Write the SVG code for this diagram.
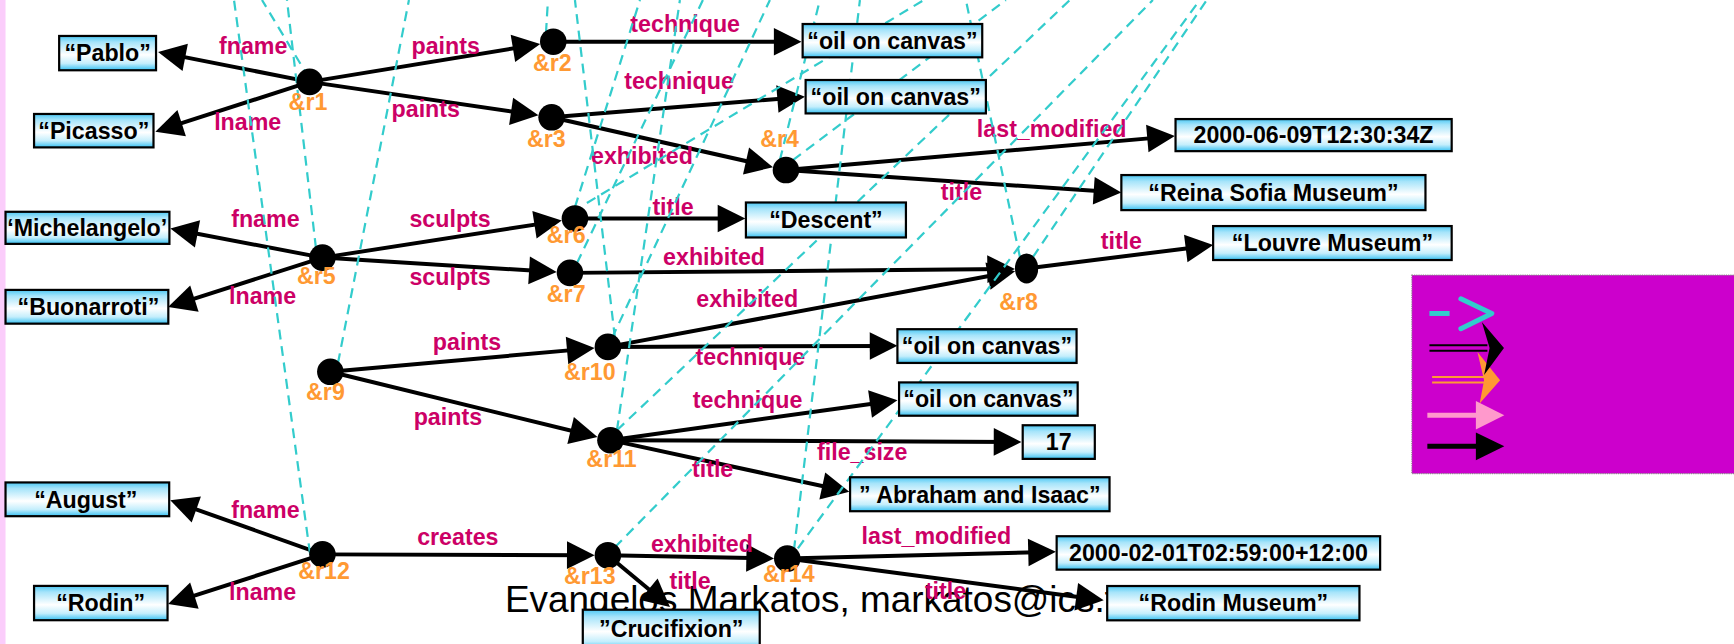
<svg xmlns="http://www.w3.org/2000/svg" width="1734" height="644" viewBox="0 0 1734 644">
<defs>
<linearGradient id="bg" x1="0" y1="0" x2="0" y2="1">
<stop offset="0" stop-color="#4cc8f4"/>
<stop offset="0.18" stop-color="#a6e4fa"/>
<stop offset="0.55" stop-color="#ffffff"/>
<stop offset="0.8" stop-color="#c4eefc"/>
<stop offset="1" stop-color="#36c0f2"/>
</linearGradient>
<marker id="ah" markerWidth="25" markerHeight="25" refX="17" refY="12.5" orient="auto" markerUnits="userSpaceOnUse" overflow="visible">
<path d="M0,0 L25,12.5 L0,25 z" fill="#000"/>
</marker>
<style>
.e{stroke:#000;stroke-width:3.6;fill:none;marker-end:url(#ah)}
.d{stroke:#33cccc;stroke-width:2;stroke-dasharray:9 6;fill:none}
.b{fill:url(#bg);stroke:#000;stroke-width:2}
.bt{font-family:"Liberation Sans",Arial,sans-serif;font-weight:bold;font-size:21px;fill:#000;text-anchor:middle}
.l{font-family:"Liberation Sans",Arial,sans-serif;font-weight:bold;font-size:21px;fill:#cc0066;text-anchor:middle}
.nl{font-family:"Liberation Sans",Arial,sans-serif;font-weight:bold;font-size:21px;fill:#ff9933;text-anchor:middle}
.f{font-family:"Liberation Sans",Arial,sans-serif;font-size:33.4px;fill:#000}
</style>
</defs>
<rect x="0" y="0" width="1734" height="644" fill="#ffffff"/>
<g transform="scale(1.10587,1.10653)">
<rect x="0" y="0" width="5" height="590" fill="#fbcdfb"/>
<text class="f" x="456.6" y="553">Evangelos Markatos, markatos@ics.forth.gr</text>

<g id="connectors">
<g id="edges">
<line class="e" x1="280" y1="74" x2="150.8" y2="48.5"/>
<line class="e" x1="280" y1="74" x2="148.1" y2="116.5"/>
<line class="e" x1="280" y1="74" x2="480.6" y2="41"/>
<line class="e" x1="280" y1="74" x2="479" y2="103.1"/>
<line class="e" x1="500.3" y1="37.7" x2="716.8" y2="37.7"/>
<line class="e" x1="498.8" y1="106" x2="719.9" y2="88.1"/>
<line class="e" x1="498.8" y1="106" x2="691.2" y2="149.3"/>
<line class="e" x1="710.7" y1="153.7" x2="1054.4" y2="123.7"/>
<line class="e" x1="710.7" y1="153.7" x2="1006" y2="173.5"/>
<line class="e" x1="291.6" y1="232.8" x2="161.9" y2="208.1"/>
<line class="e" x1="291.6" y1="232.8" x2="159.6" y2="275"/>
<line class="e" x1="291.6" y1="232.8" x2="500.1" y2="200.5"/>
<line class="e" x1="291.6" y1="232.8" x2="495.4" y2="245.4"/>
<line class="e" x1="519.9" y1="197.5" x2="666" y2="197.5"/>
<line class="e" x1="515.4" y1="246.6" x2="909.8" y2="243.1"/>
<line class="e" x1="928.3" y1="242.6" x2="1089.1" y2="222.5"/>
<line class="e" x1="298.7" y1="336" x2="529.7" y2="315.3"/>
<line class="e" x1="298.7" y1="336" x2="532.5" y2="393.1"/>
<line class="e" x1="549.7" y1="313.5" x2="910.1" y2="246.5"/>
<line class="e" x1="549.7" y1="313.5" x2="803.5" y2="312.6"/>
<line class="e" x1="552" y1="397.8" x2="803.6" y2="362.8"/>
<line class="e" x1="552" y1="397.8" x2="915.6" y2="399.4"/>
<line class="e" x1="552" y1="397.8" x2="760.2" y2="442.8"/>
<line class="e" x1="291.6" y1="501" x2="161.5" y2="454.7"/>
<line class="e" x1="291.6" y1="501" x2="159.6" y2="543.5"/>
<line class="e" x1="291.6" y1="501" x2="529.7" y2="501.8"/>
<line class="e" x1="549.7" y1="501.8" x2="691.9" y2="504.5"/>
<line class="e" x1="549.7" y1="501.8" x2="599.7" y2="543.4"/>
<line class="e" x1="711.9" y1="504.8" x2="946.8" y2="498.9"/>
<line class="e" x1="711.9" y1="504.8" x2="990.1" y2="541.5"/>
</g>
<g id="edge-labels">
<text class="l" x="229" y="48.8">fname</text>
<text class="l" x="224" y="117.5">lname</text>
<text class="l" x="403" y="49">paints</text>
<text class="l" x="385" y="105.5">paints</text>
<text class="l" x="619.6" y="28.6">technique</text>
<text class="l" x="614" y="80.8">technique</text>
<text class="l" x="580.5" y="148.3">exhibited</text>
<text class="l" x="951" y="124.2">last_modified</text>
<text class="l" x="869.4" y="180.8">title</text>
<text class="l" x="240" y="205.5">fname</text>
<text class="l" x="237.5" y="274.3">lname</text>
<text class="l" x="407" y="205">sculpts</text>
<text class="l" x="407" y="257.7">sculpts</text>
<text class="l" x="608.6" y="194.4">title</text>
<text class="l" x="645.7" y="239.6">exhibited</text>
<text class="l" x="1014" y="225.4">title</text>
<text class="l" x="422.3" y="316.4">paints</text>
<text class="l" x="405" y="384.2">paints</text>
<text class="l" x="675.7" y="277.3">exhibited</text>
<text class="l" x="678.6" y="330">technique</text>
<text class="l" x="676" y="368.3">technique</text>
<text class="l" x="779.7" y="415.3">file_size</text>
<text class="l" x="644.4" y="431">title</text>
<text class="l" x="240" y="467.7">fname</text>
<text class="l" x="237.5" y="542.5">lname</text>
<text class="l" x="414" y="492.7">creates</text>
<text class="l" x="634.7" y="498.8">exhibited</text>
<text class="l" x="624" y="532.3">title</text>
<text class="l" x="846.7" y="491.3">last_modified</text>
<text class="l" x="855" y="541">title</text>
</g>
<g id="dashed">
<line class="d" x1="280.3" y1="500" x2="211.6" y2="0"/>
<line class="d" x1="279.4" y1="70.5" x2="236.9" y2="0"/>
<line class="d" x1="285.7" y1="224.2" x2="259.5" y2="0"/>
<line class="d" x1="305.6" y1="328.2" x2="369.8" y2="0"/>
<line class="d" x1="493.7" y1="29.8" x2="495.5" y2="0"/>
<line class="d" x1="556" y1="304.7" x2="519.9" y2="0"/>
<line class="d" x1="557.9" y1="388.8" x2="614.8" y2="0"/>
<line class="d" x1="519.9" y1="187.2" x2="578.7" y2="0"/>
<line class="d" x1="521.7" y1="237.8" x2="635.6" y2="0"/>
<line class="d" x1="553.4" y1="305.6" x2="696.2" y2="0"/>
<line class="d" x1="705.2" y1="144.7" x2="741.4" y2="0"/>
<line class="d" x1="717" y1="144.7" x2="909.6" y2="0"/>
<line class="d" x1="530.7" y1="183.5" x2="835.4" y2="0"/>
<line class="d" x1="717.9" y1="497.3" x2="777.6" y2="0"/>
<line class="d" x1="922.3" y1="232.4" x2="873.4" y2="0"/>
<line class="d" x1="934" y1="232.4" x2="1091.3" y2="0"/>
<line class="d" x1="721.5" y1="495.5" x2="1085" y2="0"/>
<line class="d" x1="556" y1="494.6" x2="1042.5" y2="0"/>
<line class="d" x1="557.9" y1="388.8" x2="967.5" y2="0"/>
</g>
</g>

<g id="v-pablo"><rect class="b" x="53.5" y="32.5" width="87.6" height="31"/><text class="bt" x="97.3" y="55.5">“Pablo”</text></g>
<g id="v-picasso"><rect class="b" x="30.8" y="103" width="108" height="30.2"/><text class="bt" x="84.8" y="125.6">“Picasso”</text></g>
<g id="v-michelangelo"><rect class="b" x="5" y="191.4" width="148.2" height="29"/><text class="bt" x="6.5" y="213.4" style="text-anchor:start">‘Michelangelo’</text></g>
<g id="v-buonarroti"><rect class="b" x="5" y="262" width="147.2" height="30.5"/><text class="bt" x="80" y="284.7">“Buonarroti”</text></g>
<g id="v-august"><rect class="b" x="5" y="436" width="148" height="30.5"/><text class="bt" x="77.6" y="458.8">“August”</text></g>
<g id="v-rodin"><rect class="b" x="30.8" y="529.5" width="120.7" height="31"/><text class="bt" x="91" y="552.5">“Rodin”</text></g>
<g id="v-oil1"><rect class="b" x="725.8" y="21.7" width="162.4" height="30.1"/><text class="bt" x="807" y="44.3">“oil on canvas”</text></g>
<g id="v-oil2"><rect class="b" x="728.5" y="72.3" width="163" height="30.2"/><text class="bt" x="810" y="94.9">“oil on canvas”</text></g>
<g id="v-date1"><rect class="b" x="1063" y="107.6" width="249.7" height="29"/><text class="bt" x="1187.8" y="129.6">2000-06-09T12:30:34Z</text></g>
<g id="v-reina"><rect class="b" x="1014" y="158.2" width="275" height="31.7"/><text class="bt" x="1151.5" y="181.5">“Reina Sofia Museum”</text></g>
<g id="v-descent"><rect class="b" x="674.5" y="183" width="144.7" height="31.6"/><text class="bt" x="746.9" y="206.3">“Descent”</text></g>
<g id="v-louvre"><rect class="b" x="1097" y="204.3" width="215.7" height="30.7"/><text class="bt" x="1204.9" y="227.2">“Louvre Museum”</text></g>
<g id="v-oil3"><rect class="b" x="811.5" y="297.5" width="162" height="30.5"/><text class="bt" x="892.5" y="320.3">“oil on canvas”</text></g>
<g id="v-oil4"><rect class="b" x="813" y="345.6" width="161.5" height="30.1"/><text class="bt" x="893.8" y="368.2">“oil on canvas”</text></g>
<g id="v-17"><rect class="b" x="924.8" y="384.3" width="65.2" height="30.4"/><text class="bt" x="957.4" y="407">17</text></g>
<g id="v-abraham"><rect class="b" x="768.7" y="431.3" width="234.6" height="30.7"/><text class="bt" x="886" y="454.2">” Abraham and Isaac”</text></g>
<g id="v-date2"><rect class="b" x="955.5" y="484.6" width="292.5" height="30.2"/><text class="bt" x="1101.8" y="507.2">2000-02-01T02:59:00+12:00</text></g>
<g id="v-rodinmuseum"><rect class="b" x="1001.2" y="529.6" width="228.1" height="31"/><text class="bt" x="1115.3" y="552.6">“Rodin Museum”</text></g>
<g id="v-crucifixion"><rect class="b" x="527" y="551" width="160" height="36"/><text class="bt" x="607" y="575.6">”Crucifixion”</text></g>

<g id="r1"><circle cx="280" cy="74" r="12"/><text class="nl" x="278.5" y="99.5">&amp;r1</text></g>
<g id="r2"><circle cx="500.3" cy="37.7" r="12"/><text class="nl" x="499.5" y="64.5">&amp;r2</text></g>
<g id="r3"><circle cx="498.8" cy="106" r="12"/><text class="nl" x="494" y="133.2">&amp;r3</text></g>
<g id="r4"><circle cx="710.7" cy="153.7" r="12"/><text class="nl" x="705" y="132.6">&amp;r4</text></g>
<g id="r5"><circle cx="291.6" cy="232.8" r="12"/><text class="nl" x="286" y="256.8">&amp;r5</text></g>
<g id="r6"><circle cx="519.9" cy="197.4" r="12"/><text class="nl" x="512" y="220">&amp;r6</text></g>
<g id="r7"><circle cx="515.4" cy="246.6" r="12"/><text class="nl" x="512" y="272.8">&amp;r7</text></g>
<g id="r8"><ellipse cx="928.3" cy="242.6" rx="10.5" ry="13.6"/><text class="nl" x="921" y="280.3">&amp;r8</text></g>
<g id="r9"><circle cx="298.7" cy="336" r="12"/><text class="nl" x="294.3" y="361.6">&amp;r9</text></g>
<g id="r10"><circle cx="549.7" cy="313.5" r="12"/><text class="nl" x="533.4" y="343">&amp;r10</text></g>
<g id="r11"><circle cx="552" cy="397.8" r="12"/><text class="nl" x="553" y="422.5">&amp;r11</text></g>
<g id="r12"><circle cx="291.6" cy="501" r="12"/><text class="nl" x="293" y="522.9">&amp;r12</text></g>
<g id="r13"><circle cx="549.7" cy="501.8" r="12"/><text class="nl" x="533.4" y="527.4">&amp;r13</text></g>
<g id="r14"><circle cx="711.9" cy="504.8" r="12"/><text class="nl" x="713.3" y="526">&amp;r14</text></g>

<g id="legend">
<rect x="1276.7" y="248.6" width="300" height="179.4" fill="#cc00cc" stroke="#888" stroke-width="1" stroke-dasharray="1 1"/>
<line x1="1292.6" y1="283.3" x2="1310.8" y2="283.3" stroke="#33cccc" stroke-width="4.5"/>
<polyline points="1321,270 1349,283.3 1321,297" fill="none" stroke="#33cccc" stroke-width="4.5" stroke-linecap="round" stroke-linejoin="round"/>
<line x1="1295" y1="340.6" x2="1343.6" y2="340.6" stroke="#ff9933" stroke-width="1.8"/>
<line x1="1295" y1="345.7" x2="1343.6" y2="345.7" stroke="#ff9933" stroke-width="1.8"/>
<polygon points="1336,318 1356.5,343.6 1338,364.7 1342,343.6" fill="#ff9933"/>
<line x1="1292.6" y1="312" x2="1345" y2="312" stroke="#000" stroke-width="1.8"/>
<line x1="1292.6" y1="317" x2="1345" y2="317" stroke="#000" stroke-width="1.8"/>
<polygon points="1340,291 1360,314.5 1342,339 1347,314.5" fill="#000"/>
<line x1="1290.7" y1="375.2" x2="1336" y2="375.2" stroke="#ff99cc" stroke-width="4.5"/>
<polygon points="1334.6,362.3 1360.3,375.2 1334.6,388.2" fill="#ff99cc"/>
<line x1="1290.7" y1="403.3" x2="1336" y2="403.3" stroke="#000" stroke-width="4.5"/>
<polygon points="1334.6,390.9 1360.3,403.3 1334.6,416" fill="#000"/>
</g>
</g>
</svg>
